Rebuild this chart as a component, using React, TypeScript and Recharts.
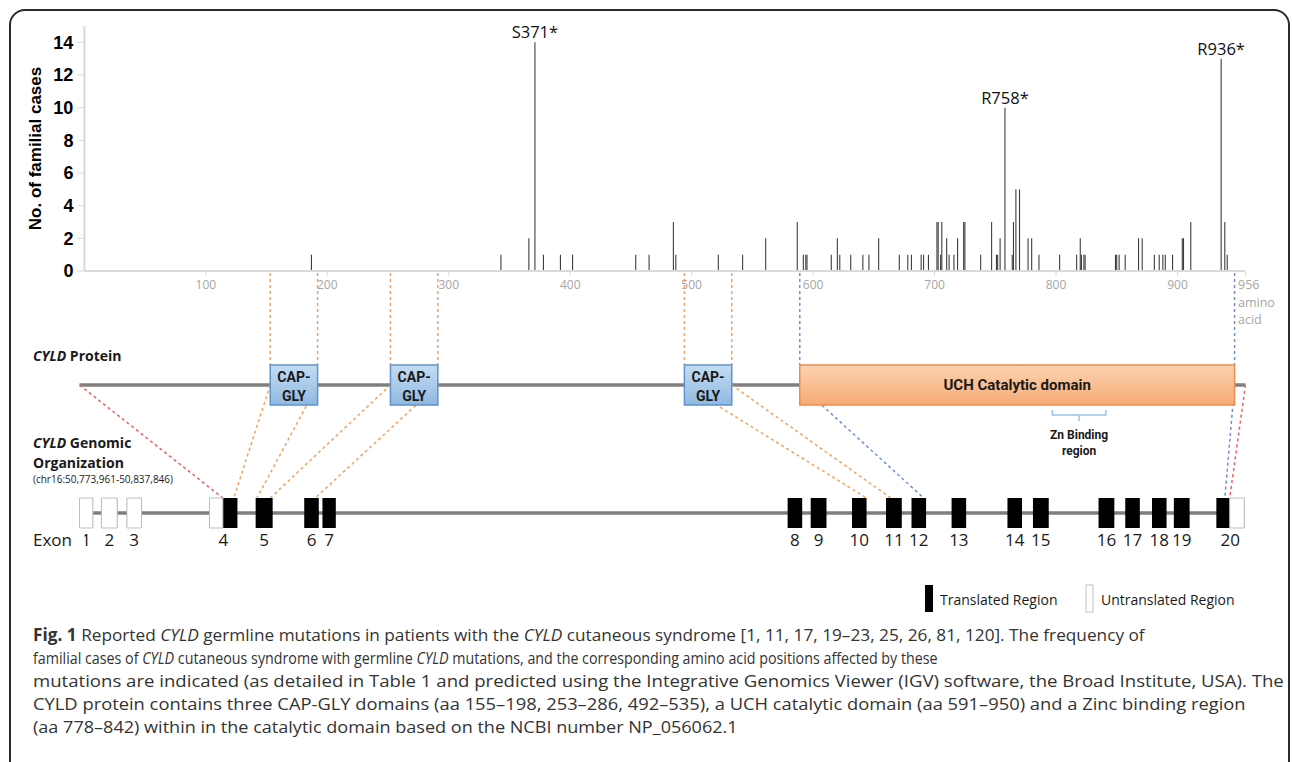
import React from "react";
import {
  Bar,
  BarChart,
  ComposedChart,
  LabelList,
  ReferenceArea,
  ReferenceLine,
  Scatter,
  XAxis,
  YAxis,
} from "recharts";

// mutated amino acid positions and no. of familial cases at each
const BAR_AA = [
  187, 343, 366, 371, 378, 392, 402, 454, 465, 485, 487, 522, 542, 561, 587,
  592, 594, 595, 615, 620, 622, 631, 641, 646, 654, 671, 678, 681, 689, 691,
  695, 702, 703, 705, 706, 710, 712, 716, 719, 724, 725, 738, 747, 751, 752,
  754, 758, 764, 765, 767, 770, 777, 780, 786, 803, 817, 820, 821, 823, 824,
  849, 850, 852, 857, 868, 871, 881, 885, 888, 890, 896, 904, 905, 911, 936,
  939, 941,
];
const BAR_COUNT = [
  1, 1, 2, 14, 1, 1, 1, 1, 1, 3, 1, 1, 1, 2, 3,
  1, 1, 1, 1, 2, 1, 1, 1, 1, 2, 1, 1, 1, 1, 1,
  1, 3, 3, 1, 3, 2, 1, 1, 2, 3, 3, 1, 3, 1, 1,
  2, 10, 1, 3, 5, 5, 2, 2, 1, 1, 1, 2, 1, 1, 1,
  1, 1, 1, 1, 2, 2, 1, 1, 1, 1, 1, 2, 2, 3, 13,
  3, 1,
];
const TAG_AA = [371, 758, 936];
const TAG_TEXT = ["S371*", "R758*", "R936*"];

const Y_TICKS = [0, 2, 4, 6, 8, 10, 12, 14];
const X_TICKS = [100, 200, 300, 400, 500, 600, 700, 800, 900, 956];

// protein domains (aa)
const PROTEIN_SPAN = [-4, 956];
const CAPGLY_FROM = [153, 252, 494];
const CAPGLY_TO = [192, 291, 533];
const UCH_SPAN = [589, 947];
const ZN_SPAN = [797, 841];

// exons, drawn on the same ruler as the protein
const EXON_LABEL = ["1", "2", "3", "4", "5", "6", "7", "8", "9", "10", "11", "12", "13", "14", "15", "16", "17", "18", "19", "20"];
const EXON_FROM = [-4, 14, 35, 103, 141, 181, 196, 579, 598, 632, 660, 681, 714, 760, 781, 835, 857, 879, 897, 932];
const EXON_TO = [7, 27, 47, 126, 155, 193, 207, 591, 611, 644, 673, 693, 726, 772, 794, 848, 869, 891, 910, 955];
const UTR_FROM = [-4, 14, 35, 103, 943];
const UTR_TO = [7, 27, 47, 114, 955];

// dashed links protein -> exon
const LINK_FROM = [-4, 153, 192, 252, 291, 494, 533, 589, 947, 956];
const LINK_TO = [114, 123, 142, 153, 190, 644, 664, 691, 939, 943];
const LINK_KIND = ["end", "cap", "cap", "cap", "cap", "cap", "cap", "uch", "uch", "end"];

const COLORS: Record<string, string> = {
  bar: "#3d3d3d",
  axis: "#d9d9d9",
  tick: "#a6a6a6",
  cap: "#f5a05a",
  uch: "#6b8fd9",
  end: "#f25c5c",
  line: "#7f7f7f",
  text: "#1a1a1a",
};

const SANS = "'Open Sans', 'DejaVu Sans', sans-serif";
const ARIAL = "'Liberation Sans', Arial, sans-serif";
const NARROW = "'Liberation Sans Narrow', 'Roboto', sans-serif";

const W = 1292;
const H = 762;
const M_LEFT = 84.4;
const M_RIGHT = 46.5;
const TOP_H = 335;
const DIAG_TOP = 262;
const DIAG_H = 360;
const ROW = {
  axis: 273,
  boxTop: 365,
  line: 385,
  boxBottom: 405,
  znTop: 410,
  znBar: 415,
  exonTop: 498,
  exonMid: 513,
  exonBottom: 528,
  exonLabel: 539,
};

const bars = BAR_AA.map((aa, i) => ({
  aa,
  count: BAR_COUNT[i],
  tag: TAG_TEXT[TAG_AA.indexOf(aa)],
}));

const exonPoints = EXON_LABEL.map((n, i) => ({
  x: (EXON_FROM[i] + EXON_TO[i]) / 2,
  y: ROW.exonLabel,
  n,
}));

const XTick = (p: any) => {
  const { x, y, payload } = p;
  if (payload.value === 956) {
    return (
      <g fill={COLORS.tick} fontSize={12.5} fontFamily={SANS}>
        <text x={x - 7.5} y={y + 11}>956</text>
        <text x={x - 7.5} y={y + 29}>amino</text>
        <text x={x - 7.5} y={y + 46}>acid</text>
      </g>
    );
  }
  return (
    <text x={x} y={y + 11} textAnchor="middle" fill={COLORS.tick} fontSize={12} fontFamily={SANS}>
      {payload.value}
    </text>
  );
};

const YLabel = (p: any) => {
  const vb = p.viewBox;
  const cx = 35;
  const cy = vb.y + vb.height / 2;
  return (
    <text
      x={cx}
      y={cy}
      transform={`rotate(-90 ${cx} ${cy})`}
      textAnchor="middle"
      dominantBaseline="central"
      fontSize={17}
      fontWeight="bold"
      fontFamily={ARIAL}
      fill="#000"
    >
      No. of familial cases
    </text>
  );
};

const capLabel = (p: any) => {
  const { x, y, width, height } = p.viewBox;
  const cx = x + width / 2;
  return (
    <g fontFamily={NARROW} fontWeight="bold" fontSize={14} fill={COLORS.text} textAnchor="middle">
      <text x={cx} y={y + height * 0.3} dominantBaseline="central">CAP-</text>
      <text x={cx} y={y + height * 0.78} dominantBaseline="central">GLY</text>
    </g>
  );
};

const uchLabel = (p: any) => {
  const { x, y, width, height } = p.viewBox;
  return (
    <text
      x={x + width / 2}
      y={y + height / 2}
      textAnchor="middle"
      dominantBaseline="central"
      fontFamily={NARROW}
      fontWeight="bold"
      fontSize={15}
      fill={COLORS.text}
    >
      UCH Catalytic domain
    </text>
  );
};

const znLabel = (p: any) => {
  const { x, y, width, height } = p.viewBox;
  const cx = x + width / 2;
  const b = y + height;
  return (
    <g>
      <path
        d={`M${x},${y} L${x},${b} L${x + width},${b} L${x + width},${y} M${cx},${b} L${cx},${b + 6}`}
        fill="none"
        stroke="#9dc3e6"
        strokeWidth={1.5}
      />
      <g fontFamily={NARROW} fontWeight="bold" fontSize={12} fill={COLORS.text} textAnchor="middle">
        <text x={cx} y={b + 24}>Zn Binding</text>
        <text x={cx} y={b + 40}>region</text>
      </g>
    </g>
  );
};

const ExonNum = (p: any) => (
  <text
    x={p.cx}
    y={p.cy}
    textAnchor="middle"
    dominantBaseline="central"
    fontSize={17}
    fontFamily={SANS}
    fill={COLORS.text}
  >
    {p.payload.n}
  </text>
);

const dash = { strokeDasharray: "3 3", strokeWidth: 1.5, ifOverflow: "visible" as const };

function MutationChart() {
  return (
    <BarChart
      width={W}
      height={TOP_H}
      data={bars}
      barSize={2}
      margin={{ top: 26, right: M_RIGHT, bottom: TOP_H - 291, left: M_LEFT - 60 }}
    >
      <XAxis
        type="number"
        dataKey="aa"
        domain={[0, 956]}
        ticks={X_TICKS}
        interval={0}
        height={20}
        tick={<XTick />}
        tickSize={5}
        tickLine={{ stroke: COLORS.axis }}
        axisLine={{ stroke: COLORS.axis, strokeWidth: 2 }}
        allowDataOverflow
      />
      <YAxis
        domain={[0, 15]}
        ticks={Y_TICKS}
        width={60}
        tickSize={7}
        tickMargin={4}
        tickLine={{ stroke: COLORS.axis }}
        axisLine={{ stroke: COLORS.axis, strokeWidth: 2 }}
        tick={{ fill: "#000", fontSize: 18, fontWeight: "bold", fontFamily: ARIAL }}
        label={YLabel}
      />
      <Bar dataKey="count" fill={COLORS.bar} isAnimationActive={false}>
        <LabelList dataKey="tag" position="top" offset={4} fill="#111" fontSize={16.5} fontFamily={SANS} />
      </Bar>
    </BarChart>
  );
}

function DomainDiagram() {
  return (
    <ComposedChart
      width={W}
      height={DIAG_H}
      margin={{ top: 0, right: M_RIGHT, bottom: 0, left: M_LEFT }}
    >
      <defs>
        <linearGradient id="capFill" x1="0" y1="0" x2="0" y2="1">
          <stop offset="0%" stopColor="#c4dcf2" />
          <stop offset="100%" stopColor="#8fb9e2" />
        </linearGradient>
        <linearGradient id="uchFill" x1="0" y1="0" x2="0" y2="1">
          <stop offset="0%" stopColor="#fcd3b2" />
          <stop offset="100%" stopColor="#f6aa74" />
        </linearGradient>
      </defs>
      <XAxis type="number" dataKey="x" domain={[0, 956]} hide allowDataOverflow />
      <YAxis type="number" dataKey="y" domain={[DIAG_TOP, DIAG_TOP + DIAG_H]} reversed hide allowDataOverflow />

      {[...CAPGLY_FROM, ...CAPGLY_TO].map((x) => (
        <ReferenceLine key={`g${x}`} segment={[{ x, y: ROW.axis }, { x, y: ROW.boxTop }]} stroke={COLORS.cap} {...dash} />
      ))}
      {UCH_SPAN.map((x) => (
        <ReferenceLine key={`u${x}`} segment={[{ x, y: ROW.axis }, { x, y: ROW.boxTop }]} stroke={COLORS.uch} {...dash} />
      ))}
      {LINK_FROM.map((x, i) => (
        <ReferenceLine
          key={`l${i}`}
          segment={[{ x, y: ROW.line }, { x: LINK_TO[i], y: ROW.exonTop }]}
          stroke={COLORS[LINK_KIND[i]]}
          {...dash}
        />
      ))}

      {/* protein backbone and gene backbone, drawn first so boxes sit on top */}
      <ReferenceArea
        x1={PROTEIN_SPAN[0]}
        x2={PROTEIN_SPAN[1]}
        y1={ROW.line - 1.75}
        y2={ROW.line + 1.75}
        fill={COLORS.line}
        fillOpacity={1}
        ifOverflow="visible"
      />
      <ReferenceArea
        x1={EXON_FROM[0]}
        x2={EXON_TO[EXON_TO.length - 1]}
        y1={ROW.exonMid - 1.75}
        y2={ROW.exonMid + 1.75}
        fill={COLORS.line}
        fillOpacity={1}
        ifOverflow="visible"
      />

      {CAPGLY_FROM.map((x1, i) => (
        <ReferenceArea
          key={`c${i}`}
          x1={x1}
          x2={CAPGLY_TO[i]}
          y1={ROW.boxTop}
          y2={ROW.boxBottom}
          fill="url(#capFill)"
          fillOpacity={1}
          stroke="#5f93c9"
          strokeWidth={1.5}
          ifOverflow="visible"
          zIndex={600}
          label={capLabel}
        />
      ))}
      <ReferenceArea
        x1={UCH_SPAN[0]}
        x2={UCH_SPAN[1]}
        y1={ROW.boxTop}
        y2={ROW.boxBottom}
        fill="url(#uchFill)"
        fillOpacity={1}
        stroke="#ec8d4c"
        strokeWidth={1.5}
        ifOverflow="visible"
        zIndex={600}
        label={uchLabel}
      />
      <ReferenceArea
        x1={ZN_SPAN[0]}
        x2={ZN_SPAN[1]}
        y1={ROW.znTop}
        y2={ROW.znBar}
        fill="none"
        fillOpacity={0}
        ifOverflow="visible"
        label={znLabel}
      />

      {EXON_FROM.map((x1, i) => (
        <ReferenceArea
          key={`e${i}`}
          x1={x1}
          x2={EXON_TO[i]}
          y1={ROW.exonTop}
          y2={ROW.exonBottom}
          fill="#000"
          fillOpacity={1}
          ifOverflow="visible"
          zIndex={600}
        />
      ))}
      {UTR_FROM.map((x1, i) => (
        <ReferenceArea
          key={`t${i}`}
          x1={x1}
          x2={UTR_TO[i]}
          y1={ROW.exonTop}
          y2={ROW.exonBottom}
          fill="#fff"
          fillOpacity={1}
          stroke="#bfbfbf"
          strokeWidth={1}
          ifOverflow="visible"
          zIndex={610}
        />
      ))}
      <Scatter data={exonPoints} dataKey="y" shape={ExonNum} isAnimationActive={false} />
    </ComposedChart>
  );
}

// one caption line, stretched horizontally to the width it has in the figure
const CapLine = ({ y, sx, children }: { y: number; sx: number; children: React.ReactNode }) => (
  <g transform={`translate(33 ${y}) scale(${sx} 1)`}>
    <text x={0} y={0}>{children}</text>
  </g>
);

function Texts() {
  const cap = { fontFamily: SANS, fontSize: 17, fill: "#333" };
  return (
    <svg width={W} height={H} style={{ position: "absolute", left: 0, top: 0 }}>
      <g fontFamily={SANS} fontWeight="bold" fontSize={14} fill={COLORS.text}>
        <text x={33} y={361}>
          <tspan fontStyle="italic">CYLD</tspan> Protein
        </text>
        <text x={33} y={448}>
          <tspan fontStyle="italic">CYLD</tspan> Genomic
        </text>
        <text x={33} y={468}>Organization</text>
      </g>
      <text x={33} y={483} fontFamily={SANS} fontSize={10} fill={COLORS.text} textLength={140} lengthAdjust="spacingAndGlyphs">
        (chr16:50,773,961-50,837,846)
      </text>
      <text x={33} y={539} dominantBaseline="central" fontFamily={SANS} fontSize={17} fill={COLORS.text}>
        Exon
      </text>

      <rect x={925} y={585} width={8} height={27} fill="#000" />
      <text x={940} y={605} fontFamily={SANS} fontSize={14} fill={COLORS.text}>
        Translated Region
      </text>
      <rect x={1086} y={585} width={7} height={27} fill="#fff" stroke="#bfbfbf" />
      <text x={1101} y={605} fontFamily={SANS} fontSize={14} fill={COLORS.text}>
        Untranslated Region
      </text>

      <g {...cap}>
        <CapLine y={641} sx={1.013}>
          <tspan fontWeight="bold">Fig. 1</tspan> Reported <tspan fontStyle="italic">CYLD</tspan> germline mutations in
          patients with the <tspan fontStyle="italic">CYLD</tspan> cutaneous syndrome [1, 11, 17, 19–23, 25, 26, 81, 120].
          The frequency of
        </CapLine>
        <CapLine y={664} sx={0.84}>
          familial cases of <tspan fontStyle="italic">CYLD</tspan> cutaneous syndrome with germline{" "}
          <tspan fontStyle="italic">CYLD</tspan> mutations, and the corresponding amino acid positions affected by these
        </CapLine>
        <CapLine y={687} sx={1.094}>
          mutations are indicated (as detailed in Table 1 and predicted using the Integrative Genomics Viewer (IGV)
          software, the Broad Institute, USA). The
        </CapLine>
        <CapLine y={710} sx={1.079}>
          CYLD protein contains three CAP-GLY domains (aa 155–198, 253–286, 492–535), a UCH catalytic domain (aa
          591–950) and a Zinc binding region
        </CapLine>
        <CapLine y={733} sx={1.063}>
          (aa 778–842) within in the catalytic domain based on the NCBI number NP_056062.1
        </CapLine>
      </g>
    </svg>
  );
}

export default function App() {
  return (
    <div
      style={{
        position: "absolute",
        left: 0,
        top: 0,
        width: W,
        height: H,
        overflow: "hidden",
        background: "#fff",
      }}
    >
      <div
        style={{
          position: "absolute",
          left: 9,
          top: 9,
          width: 1281,
          height: 800,
          border: "2px solid #2b2b2b",
          borderRadius: 16,
          boxSizing: "border-box",
        }}
      />
      <Texts />
      <div style={{ position: "absolute", left: 0, top: 0 }}>
        <MutationChart />
      </div>
      <div style={{ position: "absolute", left: 0, top: DIAG_TOP }}>
        <DomainDiagram />
      </div>
    </div>
  );
}
